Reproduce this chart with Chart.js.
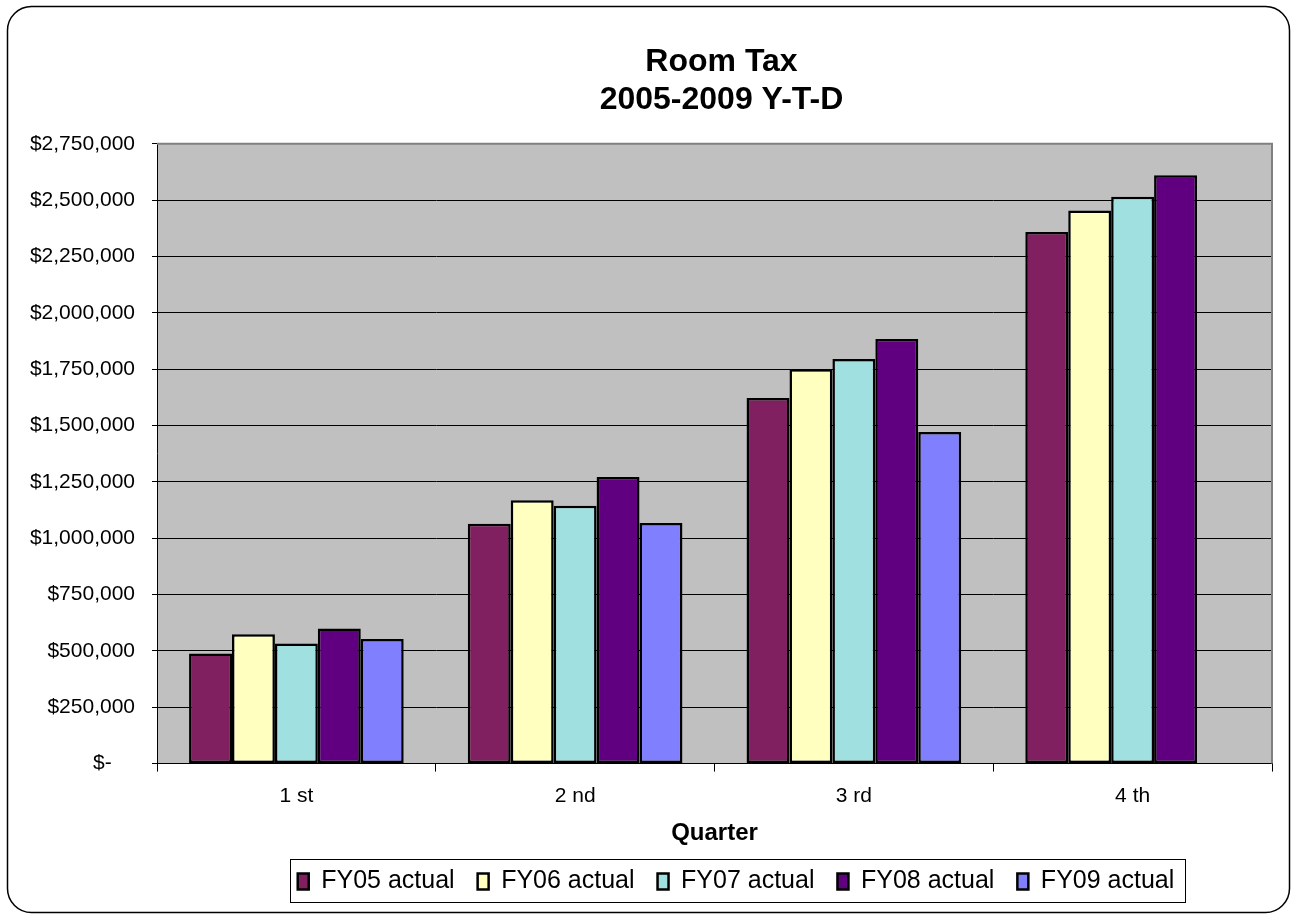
<!DOCTYPE html>
<html>
<head>
<meta charset="utf-8">
<script src="https://cdn.jsdelivr.net/npm/chart.js@4.4.0/dist/chart.umd.min.js"></script>
<style>
  html, body { margin: 0; padding: 0; background: #fff; }
  #wrap { position: relative; width: 1291px; height: 920px; }
</style>
</head>
<body>
<div id="wrap"><canvas id="c" width="1291" height="920"></canvas></div>
<script>
  // values
  const quarters = ['1 st', '2 nd', '3 rd', '4 th'];
  const fy05 = [489000, 1064000, 1622000, 2359000];
  const fy06 = [574000, 1168000, 1750000, 2454000];
  const fy07 = [533000, 1144000, 1795000, 2515000];
  const fy08 = [599000, 1272000, 1884000, 2610000];
  const fy09 = [553000, 1068000, 1471000, null];
  const seriesNames = ['FY05 actual', 'FY06 actual', 'FY07 actual', 'FY08 actual', 'FY09 actual'];
  const seriesColors = ['#802060', '#FFFFC0', '#A0E0E0', '#600080', '#8080FF'];
  const titleLines = ['Room Tax', '2005-2009 Y-T-D'];

  const FONT = 'Arial, "Liberation Sans", sans-serif';
  Chart.defaults.font.family = FONT;
  Chart.defaults.color = '#000';

  const fmtMoney = v => v === 0 ? '$-    ' : '$' + v.toLocaleString('en-US');

  const TITLE_SIZE = 32, TITLE_LH = 1.2, TITLE_PAD_TOP = 43;
  const TITLE_SHIFT = 7;     // original title sits a little right of the plot centre
  const LEGEND_CENTER = 736; // legend box is centred off-axis in the original

  const decor = {
    id: 'decor',
    afterLayout(chart){
      // re-centre the legend row; hit boxes are recomputed from left/right afterwards
      const lg = chart.legend;
      if(lg){
        lg.right = chart.chartArea.right;
        lg.left = 2 * LEGEND_CENTER - lg.right;
        lg.width = lg.right - lg.left;
      }
    },
    beforeDraw(chart){
      const {ctx, chartArea: a} = chart;
      ctx.save();
      ctx.fillStyle = '#C0C0C0';
      ctx.fillRect(a.left, a.top, a.right - a.left, a.bottom - a.top);
      ctx.restore();
    },
    afterDatasetsDraw(chart){
      const {ctx, chartArea: a} = chart;
      ctx.save();
      ctx.strokeStyle = '#808080';
      ctx.lineWidth = 2;
      ctx.beginPath();
      ctx.moveTo(a.left, a.top);
      ctx.lineTo(a.right, a.top);
      ctx.lineTo(a.right, a.bottom);
      ctx.stroke();
      ctx.restore();
    },
    afterDraw(chart){
      const {ctx, chartArea: a} = chart;
      const tb = chart.titleBlock;
      const lh = TITLE_SIZE * TITLE_LH;
      ctx.save();
      ctx.fillStyle = '#000';
      ctx.font = 'bold ' + TITLE_SIZE + 'px ' + FONT;
      ctx.textAlign = 'center';
      ctx.textBaseline = 'middle';
      titleLines.forEach((t, i) => {
        ctx.fillText(t, (a.left + a.right) / 2 + TITLE_SHIFT, tb.top + TITLE_PAD_TOP + lh / 2 + i * lh);
      });
      ctx.restore();

      const hb = chart.legend.legendHitBoxes;
      if(hb && hb.length){
        const l = Math.min(...hb.map(h => h.left)) - 8;
        const r = Math.max(...hb.map(h => h.left + h.width)) + 10;
        const t = Math.min(...hb.map(h => h.top)) - 10;
        const b = Math.max(...hb.map(h => h.top + h.height)) + 8;
        ctx.save();
        ctx.strokeStyle = '#000';
        ctx.lineWidth = 1;
        ctx.strokeRect(Math.round(l) + 0.5, Math.round(t) + 0.5, Math.round(r - l), Math.round(b - t));
        ctx.restore();
      }
      // outer rounded frame
      const x0 = 7.5, y0 = 6.5, x1 = 1289.5, y1 = 912.5, rad = 24;
      ctx.save();
      ctx.strokeStyle = '#000';
      ctx.lineWidth = 1.5;
      ctx.beginPath();
      ctx.moveTo(x0 + rad, y0);
      ctx.lineTo(x1 - rad, y0);
      ctx.arcTo(x1, y0, x1, y0 + rad, rad);
      ctx.lineTo(x1, y1 - rad);
      ctx.arcTo(x1, y1, x1 - rad, y1, rad);
      ctx.lineTo(x0 + rad, y1);
      ctx.arcTo(x0, y1, x0, y1 - rad, rad);
      ctx.lineTo(x0, y0 + rad);
      ctx.arcTo(x0, y0, x0 + rad, y0, rad);
      ctx.stroke();
      ctx.restore();
    }
  };

  const allSeries = [fy05, fy06, fy07, fy08, fy09];
  const datasets = allSeries.map((vals, i) => ({
    label: seriesNames[i],
    data: vals,
    backgroundColor: seriesColors[i],
    borderColor: '#000',
    borderWidth: 2.5,
    borderSkipped: false,
    categoryPercentage: 0.77,
    barPercentage: 1.0
  }));

  new Chart(document.getElementById('c'), {
    type: 'bar',
    data: { labels: quarters, datasets },
    plugins: [decor],
    options: {
      responsive: false,
      animation: false,
      layout: { padding: { left: 0, right: 19, top: 0, bottom: 16 } },
      plugins: {
        title: {
          // reserves the space; the text itself is drawn by the decor plugin
          display: true,
          text: titleLines,
          font: { size: TITLE_SIZE, weight: 'bold', lineHeight: TITLE_LH },
          color: 'rgba(0,0,0,0)',
          padding: { top: TITLE_PAD_TOP, bottom: 24 }
        },
        legend: {
          position: 'bottom',
          labels: {
            font: { size: 25 },
            boxWidth: 11,
            boxHeight: 16,
            padding: 23,
            color: '#000'
          }
        },
        tooltip: { enabled: false }
      },
      scales: {
        x: {
          offset: true,
          grid: { display: true, drawOnChartArea: false, offset: true, tickLength: 8, color: '#000' },
          border: { color: '#000', width: 1 },
          ticks: { font: { size: 21 }, padding: 12 },
          title: { display: true, text: 'Quarter', font: { size: 24, weight: 'bold', lineHeight: 1.05 }, padding: { top: 0, bottom: 0 } }
        },
        y: {
          min: 0,
          max: 2750000,
          afterFit(scale){ scale.width = 157; },
          ticks: { stepSize: 250000, font: { size: 21 }, padding: 17, callback: v => fmtMoney(v) },
          grid: {
            color: ctx => (ctx.tick && ctx.tick.value === 2750000) ? '#808080' : '#000',
            tickColor: '#000',
            tickLength: 5,
            lineWidth: 1
          },
          border: { color: '#000', width: 1 }
        }
      }
    }
  });
</script>
</body>
</html>
